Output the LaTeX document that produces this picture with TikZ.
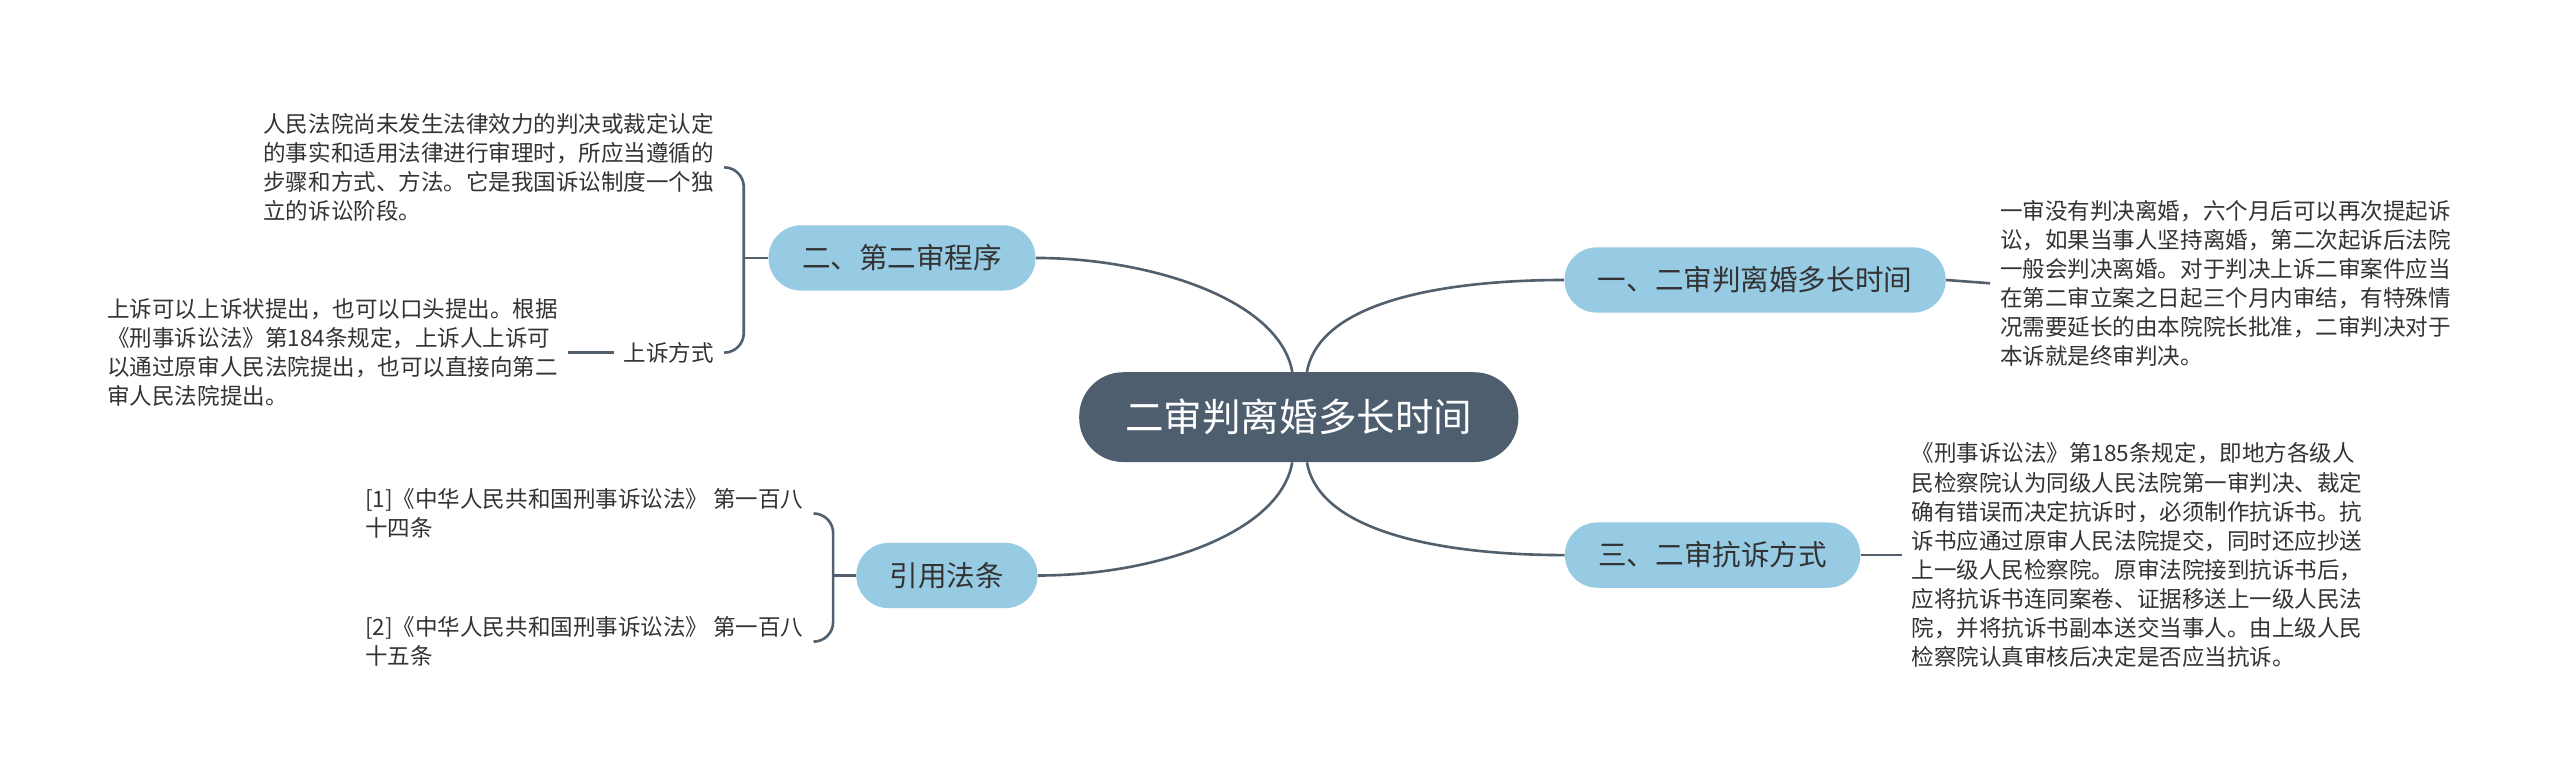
\documentclass[tikz,border=0pt]{standalone}
\usepackage{fontspec}
\newfontfamily\cjk{Noto Sans CJK SC}
\usepackage{tikz}
\usetikzlibrary{positioning}
\definecolor{rootslate}{HTML}{4E5E6E}
\definecolor{topicblue}{HTML}{96CBE3}
\definecolor{inkgray}{HTML}{333333}
\definecolor{linkslate}{HTML}{52606E}

\begin{document}
\begin{tikzpicture}[
    x=1pt, y=1pt,
    mainbox/.style={rectangle, fill=rootslate, text=white, rounded corners=27pt, minimum height=55pt, inner xsep=28.3pt, font=\cjk\fontsize{23.6pt}{28pt}\selectfont},
    topicbox/.style={rectangle, fill=topicblue, text=inkgray, rounded corners=19.9pt, minimum height=40pt, inner xsep=20.5pt, font=\cjk\fontsize{17.5pt}{21pt}\selectfont},
    leaftext/.style={align=left, inner xsep=6pt, inner ysep=2pt, text=inkgray, font=\cjk\fontsize{13.8pt}{17.8pt}\selectfont},
    link/.style={draw=linkslate, line width=1.6pt}
]
  \useasboundingbox[fill=white] (0,0) rectangle (1568,477);

  \node[mainbox] (core) at (795.5,221.5) {二审判离婚多长时间};
  \node[topicbox] (b1) at (1075,305.5) {一、二审判离婚多长时间};
  \node[topicbox] (b3) at (1049,137) {三、二审抗诉方式};
  \node[topicbox] (b2) at (552.5,319) {二、第二审程序};
  \node[topicbox] (b4) at (580,124.5) {引用法条};

  % right side
  \node[leaftext, right=27pt of b1, yshift=-2pt] (r1) {一审没有判决离婚，六个月后可以再次提起诉\\讼，如果当事人坚持离婚，第二次起诉后法院\\一般会判决离婚。对于判决上诉二审案件应当\\在第二审立案之日起三个月内审结，有特殊情\\况需要延长的由本院院长批准，二审判决对于\\本诉就是终审判决。};
  \node[leaftext, right=25pt of b3] (r3) {《刑事诉讼法》第185条规定，即地方各级人\\民检察院认为同级人民法院第一审判决、裁定\\确有错误而决定抗诉时，必须制作抗诉书。抗\\诉书应通过原审人民法院提交，同时还应抄送\\上一级人民检察院。原审法院接到抗诉书后，\\应将抗诉书连同案卷、证据移送上一级人民法\\院，并将抗诉书副本送交当事人。由上级人民\\检察院认真审核后决定是否应当抗诉。};

  % left side
  \node[leaftext, left=27pt of b2, yshift=55.5pt] (l1) {人民法院尚未发生法律效力的判决或裁定认定\\的事实和适用法律进行审理时，所应当遵循的\\步骤和方式、方法。它是我国诉讼制度一个独\\立的诉讼阶段。};
  \node[leaftext, left=27pt of b2, yshift=-58pt] (appeal) {上诉方式};
  \node[leaftext, left=28pt of appeal] (l2) {上诉可以上诉状提出，也可以口头提出。根据\\《刑事诉讼法》第184条规定，上诉人上诉可\\以通过原审人民法院提出，也可以直接向第二\\审人民法院提出。};
  \node[leaftext, left=26pt of b4, yshift=38pt] (cite1) {[1]《中华人民共和国刑事诉讼法》 第一百八\\十四条};
  \node[leaftext, left=26pt of b4, yshift=-40.5pt] (cite2) {[2]《中华人民共和国刑事诉讼法》 第一百八\\十五条};

  \draw[link] ([xshift=5pt]core.north) .. controls +(80:45) and +(-70,0) .. (b1.west);
  \draw[link] ([xshift=-4pt]core.north) .. controls +(100:45) and +(70,0) .. (b2.east);
  \draw[link] ([xshift=5pt]core.south) .. controls +(-80:45) and +(-70,0) .. (b3.west);
  \draw[link] ([xshift=-4pt]core.south) .. controls +(-100:45) and +(70,0) .. (b4.east);

  \draw[link] (b1.east) -- (r1.west);
  \draw[link] (b3.east) -- (r3.west);
  \draw[link] (appeal.west) -- (l2.east);

  \coordinate (k2) at ([xshift=-15pt]b2.west);
  \coordinate (k4) at ([xshift=-14pt]b4.west);
  \draw[link] (b2.west) -- (k2);
  \draw[link, rounded corners=12pt] (l1.east) -| (k2) |- (appeal.east);
  \draw[link] (b4.west) -- (k4);
  \draw[link, rounded corners=12pt] (cite1.east) -| (k4) |- (cite2.east);
\end{tikzpicture}
\end{document}
